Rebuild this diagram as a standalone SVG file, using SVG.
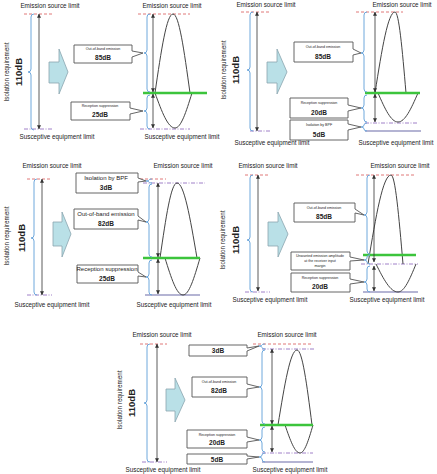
<svg xmlns="http://www.w3.org/2000/svg" width="437" height="474" viewBox="0 0 437 474">
<style>
text{font-family:"Liberation Sans",Arial,sans-serif;fill:#222}
.lbl{font-size:6.3px;text-anchor:middle}
.rot{font-size:6.3px;text-anchor:middle;dominant-baseline:central}
.big{font-size:9.5px;font-weight:bold;text-anchor:middle;dominant-baseline:central}
.db{font-size:6.5px;font-weight:bold;text-anchor:middle}
.tiny{font-size:3.6px;text-anchor:middle}
.mid{font-size:6px;text-anchor:middle}
.red{stroke:#e07878;stroke-width:1;stroke-dasharray:3 2;fill:none}
.pur{stroke:#a080c8;stroke-width:1;stroke-dasharray:4 1.5 1 1.5;fill:none}
.grn{stroke:#3cc43c;stroke-width:2.6;fill:none}
.sol{stroke:#6a6aa8;stroke-width:1.2;fill:none}
.br{stroke:#6fa8dc;stroke-width:1;fill:none}
.arr{stroke:#333;stroke-width:0.8;fill:none;marker-start:url(#ah);marker-end:url(#ah)}
.wav{stroke:#444;stroke-width:1;fill:none}
.blk{fill:#b9e0e7;stroke:#8aa4ae;stroke-width:0.8}
.box{fill:#fff;stroke:#555;stroke-width:0.9}
</style>
<defs>
<marker id="ah" viewBox="0 0 6 6" refX="5.5" refY="3" markerWidth="4" markerHeight="4" markerUnits="userSpaceOnUse" orient="auto-start-reverse"><path d="M0,0 L6,3 L0,6 z" fill="#333"/></marker>
</defs>

<!-- Panel 1 -->
<g id="panel1">
<g id="p1-left">
<text class="lbl" x="50" y="8">Emission source limit</text>
<line class="red" x1="24" y1="14" x2="52" y2="14"/>
<line class="pur" x1="24" y1="129" x2="52" y2="129"/>
<path class="br" d="M34,14 Q31,14 31,17 L31,69 Q31,72 28,72 Q31,72 31,75 L31,127 Q31,130 34,130"/>
<text class="big" transform="rotate(-90 18 72)" x="18" y="72">110dB</text>
<text class="rot" transform="rotate(-90 6 72)" x="6" y="72">Isolation requirement</text>
<text class="lbl" x="57" y="139">Susceptive equipment limit</text>
<polygon class="blk" points="49,62 59,62 59,49 68,72 59,94 59,83 49,83"/>
</g>
<g id="p1-right">
<text class="lbl" x="172" y="8">Emission source limit</text>
<line class="red" x1="138" y1="14" x2="190" y2="14"/>
<line class="pur" x1="140" y1="129" x2="190" y2="129"/>
<path class="wav" d="M155,93 C161.3,49.6 166.7,14 173,14 C179,14 184,49.6 190,93"/>
<path class="wav" d="M155,93 C162,112.3 168,128 175,128 C181,128 186,112.3 192,93"/>
<line class="grn" x1="143" y1="93" x2="207" y2="93"/>
<path class="br" d="M150,14 Q147,14 147,17 L147,50 Q147,53 144,53 Q147,53 147,56 L147,89 Q147,92 150,92"/>
<path class="br" d="M150,95 Q147,95 147,98 L147,108 Q147,111 144,111 Q147,111 147,114 L147,126 Q147,129 150,129"/>
<text class="lbl" x="182" y="139">Susceptive equipment limit</text>
</g>
<g id="p1-box1">
<path class="box" d="M74,45 H132 V51 L143,53 L132,57 V63 H74 Z"/>
<text class="tiny" x="103" y="50">Out-of-band emission</text>
<text class="db" x="103" y="60">85dB</text>
</g>
<g id="p1-box2">
<path class="box" d="M71,102 H130 V108 L143,111 L130,114 V120 H71 Z"/>
<text class="tiny" x="100" y="107">Reception suppression</text>
<text class="db" x="100" y="117">25dB</text>
</g>
</g>

<!-- Panel 2 -->
<g id="panel2">
<g id="p2-left">
<text class="lbl" x="266" y="7">Emission source limit</text>
<line class="red" x1="241" y1="12" x2="270" y2="12"/>
<line class="pur" x1="250" y1="131" x2="270" y2="131"/>
<path class="br" d="M253,12 Q250,12 250,15 L250,67 Q250,70 247,70 Q250,70 250,73 L250,128 Q250,131 253,131"/>
<text class="big" transform="rotate(-90 235 70)" x="235" y="70">110dB</text>
<text class="rot" transform="rotate(-90 223 70)" x="223" y="70">Isolation requirement</text>
<text class="lbl" x="272" y="145">Susceptive equipment limit</text>
<polygon class="blk" points="267,62 277,62 277,49 287,72 277,94 277,83 267,83"/>
</g>
<g id="p2-right">
<text class="lbl" x="402" y="7">Emission source limit</text>
<line class="red" x1="356" y1="12" x2="403" y2="12"/>
<line class="pur" x1="365" y1="123" x2="418" y2="123"/>
<line class="sol" x1="365" y1="131" x2="421" y2="131"/>
<path class="wav" d="M375,93 C382,48.5 388,12 395,12 C398.9,12 402.2,48.5 406,93"/>
<path class="wav" d="M378,93 C385,109 391,122 398,122 C405,122 411,109 418,93"/>
<line class="grn" x1="365" y1="93" x2="420" y2="93"/>
<path class="br" d="M367,12 Q364,12 364,15 L364,50 Q364,53 361,53 Q364,53 364,56 L364,89 Q364,92 367,92"/>
<path class="br" d="M367,95 Q364,95 364,98 L364,105 Q364,108 361,108 Q364,108 364,111 L364,119 Q364,122 367,122"/>
<path class="br" d="M367,123 Q364,123 364,125 Q364,127 361,127 Q364,127 364,129 Q364,131 367,131"/>
<text class="lbl" x="396" y="145">Susceptive equipment limit</text>
</g>
<g id="p2-box1">
<path class="box" d="M294,42 H353 V49 L361,53 L353,55 V62 H294 Z"/>
<text class="tiny" x="323" y="48">Out-of-band emission</text>
<text class="db" x="323" y="59">85dB</text>
</g>
<g id="p2-box2">
<path class="box" d="M290,98 H348 V105 L361,108 L348,111 V118 H290 Z"/>
<text class="tiny" x="319" y="104">Reception suppression</text>
<text class="db" x="319" y="115">20dB</text>
</g>
<g id="p2-box3">
<path class="box" d="M290,120 H348 V124 L361,127 L348,130 V140 H290 Z"/>
<text class="tiny" x="319" y="126">Isolation by BPF</text>
<text class="db" x="319" y="137">5dB</text>
</g>
</g>

<!-- Panel 3 -->
<g id="panel3">
<g id="p3-left">
<text class="lbl" x="52" y="168">Emission source limit</text>
<line class="red" x1="27" y1="179" x2="52" y2="179"/>
<line class="pur" x1="27" y1="295" x2="52" y2="295"/>
<path class="br" d="M37,179 Q34,179 34,182 L34,235 Q34,238 31,238 Q34,238 34,241 L34,292 Q34,295 37,295"/>
<text class="big" transform="rotate(-90 21 238)" x="21" y="238">110dB</text>
<text class="rot" transform="rotate(-90 6 236)" x="6" y="236">Isolation requirement</text>
<text class="lbl" x="52" y="307">Susceptive equipment limit</text>
<polygon class="blk" points="53,222 62,222 62,212 71,234 62,257 62,246 53,246"/>
</g>
<g id="p3-right">
<text class="lbl" x="183" y="168">Emission source limit</text>
<line class="red" x1="140" y1="179" x2="166" y2="179"/>
<line class="pur" x1="143" y1="183" x2="205" y2="183"/>
<line class="sol" x1="145" y1="295" x2="200" y2="295"/>
<path class="wav" d="M160,258 C166,216.8 171,183 177,183 C184,183 190,216.8 197,258"/>
<path class="wav" d="M165,258 C171.3,278.4 176.7,295 183,295 C189,295 194,278.4 200,258"/>
<line class="grn" x1="143" y1="258" x2="200" y2="258"/>
<path class="br" d="M152,179 Q149,179 149,180 Q149,181 146,181 Q149,181 149,182 Q149,183 152,183"/>
<path class="br" d="M152,184 Q149,184 149,187 L149,219 Q149,222 146,222 Q149,222 149,225 L149,254 Q149,257 152,257"/>
<path class="br" d="M152,260 Q149,260 149,263 L149,274 Q149,277 146,277 Q149,277 149,280 L149,292 Q149,295 152,295"/>
<text class="lbl" x="174" y="307">Susceptive equipment limit</text>
</g>
<g id="p3-box1">
<path class="box" d="M76,173 H138 V178 L146,181 L138,182 V193 H76 Z"/>
<text class="mid" x="106" y="180">Isolation by BPF</text>
<text class="db" x="106" y="190">3dB</text>
</g>
<g id="p3-box2">
<path class="box" d="M74,209 H138 V216 L146,222 L138,220 V229 H74 Z"/>
<text class="mid" x="106" y="216">Out-of-band emission</text>
<text class="db" x="106" y="226">82dB</text>
</g>
<g id="p3-box3">
<path class="box" d="M77,265 H138 V272 L146,277 L138,276 V283 H77 Z"/>
<text class="mid" x="107" y="271">Reception suppression</text>
<text class="db" x="107" y="281">25dB</text>
</g>
</g>

<!-- Panel 4 -->
<g id="panel4">
<g id="p4-left">
<text class="lbl" x="268" y="168">Emission source limit</text>
<line class="red" x1="245" y1="175" x2="270" y2="175"/>
<line class="pur" x1="245" y1="292" x2="270" y2="292"/>
<path class="br" d="M253,175 Q250,175 250,178 L250,237 Q250,240 247,240 Q250,240 250,243 L250,289 Q250,292 253,292"/>
<text class="big" transform="rotate(-90 235 240)" x="235" y="240">110dB</text>
<text class="rot" transform="rotate(-90 222 240)" x="222" y="240">Isolation requirement</text>
<text class="lbl" x="270" y="302">Susceptive equipment limit</text>
<polygon class="blk" points="268,222 278,222 278,212 288,234 278,257 278,246 268,246"/>
</g>
<g id="p4-right">
<text class="lbl" x="400" y="168">Emission source limit</text>
<line class="red" x1="356" y1="175" x2="415" y2="175"/>
<line class="pur" x1="361" y1="264" x2="418" y2="264"/>
<line class="sol" x1="363" y1="292" x2="418" y2="292"/>
<path class="wav" d="M368,264 C376,215 383,175 391,175 C395.2,175 398.8,215 403,264"/>
<path class="wav" d="M376,264 C383.7,279.4 390.3,292 398,292 C404.3,292 409.7,279.4 416,264"/>
<line class="grn" x1="363" y1="255" x2="416" y2="255"/>
<path class="br" d="M370,175 Q367,175 367,178 L367,212 Q367,215 364,215 Q367,215 367,218 L367,251 Q367,254 370,254"/>
<path class="br" d="M370,255 Q367,255 367,257 L367,258 Q367,260 364,260 Q367,260 367,262 Q367,264 370,264"/>
<path class="br" d="M370,266 Q367,266 367,269 L367,279 Q367,282 364,282 Q367,282 367,285 L367,289 Q367,292 370,292"/>
<text class="lbl" x="387" y="302">Susceptive equipment limit</text>
</g>
<g id="p4-box1">
<path class="box" d="M294,203 H355 V209 L364,215 L355,213 V222 H294 Z"/>
<text class="tiny" x="324" y="209">Out-of-band emission</text>
<text class="db" x="324" y="219">85dB</text>
</g>
<g id="p4-box2">
<path class="box" d="M291,252 H350 V257 L364,260 L350,261 V270 H291 Z"/>
<text class="tiny" x="320" y="257">Unwanted emission amplitude</text>
<text class="tiny" x="320" y="262">at the receiver input</text>
<text class="tiny" x="320" y="267">margin</text>
</g>
<g id="p4-box3">
<path class="box" d="M291,273 H350 V279 L364,282 L350,284 V292 H291 Z"/>
<text class="tiny" x="320" y="279">Reception suppression</text>
<text class="db" x="320" y="289">20dB</text>
</g>
</g>

<!-- Panel 5 -->
<g id="panel5">
<g id="p5-left">
<text class="lbl" x="162" y="337">Emission source limit</text>
<line class="red" x1="140" y1="344" x2="167" y2="344"/>
<line class="pur" x1="142" y1="462" x2="167" y2="462"/>
<path class="br" d="M150,344 Q147,344 147,347 L147,400 Q147,403 144,403 Q147,403 147,406 L147,459 Q147,462 150,462"/>
<text class="big" transform="rotate(-90 131 403)" x="131" y="403">110dB</text>
<text class="rot" transform="rotate(-90 119 400)" x="119" y="400">Isolation requirement</text>
<text class="lbl" x="163" y="472">Susceptive equipment limit</text>
<polygon class="blk" points="166,389 175,389 175,378 185,400 175,422 175,411 166,411"/>
</g>
<g id="p5-right">
<text class="lbl" x="287" y="337">Emission source limit</text>
<line class="red" x1="253" y1="344" x2="313" y2="344"/>
<line class="pur" x1="262" y1="349" x2="315" y2="349"/>
<line class="pur" x1="262" y1="453" x2="313" y2="453"/>
<line class="sol" x1="262" y1="462" x2="313" y2="462"/>
<path class="wav" d="M278,425 C284.7,383.8 290.4,350 297,350 C302.3,350 306.8,383.8 312,425"/>
<path class="wav" d="M285,425 C290.3,440.4 294.8,453 300,453 C304.6,453 308.5,440.4 313,425"/>
<line class="grn" x1="260" y1="425" x2="313" y2="425"/>
<path class="br" d="M265,344 Q262,344 262,345 Q262,346 259,346 Q262,346 262,347.5 Q262,349 265,349"/>
<path class="br" d="M265,350 Q262,350 262,353 L262,384 Q262,387 259,387 Q262,387 262,390 L262,421 Q262,424 265,424"/>
<path class="br" d="M265,427 Q262,427 262,430 L262,437 Q262,440 259,440 Q262,440 262,443 L262,449 Q262,452 265,452"/>
<path class="br" d="M265,453 Q262,453 262,455 Q262,457 259,457 Q262,457 262,459 Q262,462 265,462"/>
<text class="lbl" x="290" y="472">Susceptive equipment limit</text>
</g>
<g id="p5-box1">
<path class="box" d="M189,345 H247 V348 L259,346 L247,351 V356 H189 Z"/>
<text class="db" x="218" y="353">3dB</text>
</g>
<g id="p5-box2">
<path class="box" d="M192,377 H247 V384 L259,387 L247,389 V397 H192 Z"/>
<text class="tiny" x="219" y="383">Out-of-band emission</text>
<text class="db" x="219" y="393">82dB</text>
</g>
<g id="p5-box3">
<path class="box" d="M187,430 H247 V437 L259,440 L247,442 V448 H187 Z"/>
<text class="tiny" x="217" y="436">Reception suppression</text>
<text class="db" x="217" y="445">20dB</text>
</g>
<g id="p5-box4">
<path class="box" d="M187,454 H247 V456 L259,457 L247,459 V464 H187 Z"/>
<text class="db" x="217" y="462">5dB</text>
</g>
</g>

<g id="connectors">
<line class="arr" x1="39" y1="14" x2="39" y2="129"/>
<line class="arr" x1="153" y1="14" x2="153" y2="92"/>
<line class="arr" x1="153" y1="94" x2="153" y2="128"/>
<line class="arr" x1="257" y1="12" x2="257" y2="131"/>
<line class="arr" x1="375" y1="12" x2="375" y2="92"/>
<line class="arr" x1="375" y1="94" x2="375" y2="122"/>
<line class="arr" x1="42" y1="179" x2="42" y2="295"/>
<line class="arr" x1="158" y1="183" x2="158" y2="257"/>
<line class="arr" x1="158" y1="259" x2="158" y2="294"/>
<line class="arr" x1="258" y1="175" x2="258" y2="291"/>
<line class="arr" x1="374" y1="175" x2="374" y2="262"/>
<line class="arr" x1="374" y1="266" x2="374" y2="291"/>
<line class="arr" x1="157" y1="344" x2="157" y2="462"/>
<line class="arr" x1="272" y1="349" x2="272" y2="424"/>
<line class="arr" x1="272" y1="426" x2="272" y2="452"/>
</g>
</svg>
